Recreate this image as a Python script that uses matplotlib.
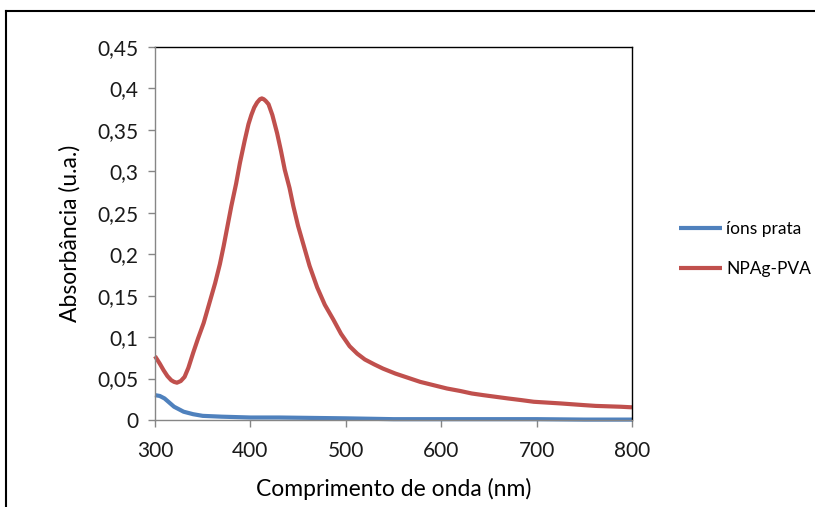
import numpy as np
import matplotlib.pyplot as plt
from matplotlib.lines import Line2D
from matplotlib.ticker import FuncFormatter

# Espectros UV-Vis
wl_ions = [300, 305, 310, 315, 320, 325, 330, 340, 350, 370, 400, 430, 500, 550, 600, 700, 750, 800]
abs_ions = [0.030, 0.029, 0.026, 0.021, 0.016, 0.013, 0.010, 0.007, 0.005, 0.004, 0.003,
            0.003, 0.002, 0.001, 0.001, 0.001, 0.0005, 0.0005]

wl_npag = [300, 305, 309, 313, 317, 320, 323, 327, 331, 335, 340, 345, 351, 357, 363, 368,
           372, 376, 380, 385, 389, 394, 398, 401, 404, 407, 410, 412, 414, 416, 419, 423,
           428, 432, 436, 441, 445, 450, 456, 462, 470, 478, 487, 495, 504, 512, 520, 530,
           539, 552, 565, 578, 592, 606, 620, 632, 644, 657, 670, 684, 697, 711, 725, 737,
           749, 762, 775, 788, 800]
abs_npag = [0.077, 0.068, 0.060, 0.053, 0.048, 0.046, 0.045, 0.047, 0.052, 0.063, 0.081,
            0.098, 0.117, 0.141, 0.165, 0.188, 0.210, 0.234, 0.258, 0.285, 0.310, 0.337,
            0.357, 0.368, 0.377, 0.383, 0.387, 0.388, 0.387, 0.385, 0.381, 0.368, 0.346,
            0.325, 0.302, 0.280, 0.258, 0.234, 0.210, 0.186, 0.160, 0.139, 0.121, 0.104,
            0.089, 0.080, 0.073, 0.067, 0.062, 0.056, 0.051, 0.046, 0.042, 0.038, 0.035,
            0.032, 0.030, 0.028, 0.026, 0.024, 0.022, 0.021, 0.020, 0.019, 0.018, 0.017,
            0.0165, 0.016, 0.0153]

labels = ['íons prata', 'NPAg-PVA']
cores = ['#4F81BD', '#C0504D']

plt.rcParams['font.family'] = ['Lato', 'DejaVu Sans']

fig = plt.figure(figsize=(8.15, 5.07), dpi=100)
ax = fig.add_axes([155/815, 1-420/507, 477/815, 373/507])

ax.plot(wl_ions, abs_ions, color=cores[0], lw=3.0, label=labels[0],
        solid_joinstyle='round', solid_capstyle='butt', clip_on=False)
ax.plot(wl_npag, abs_npag, color=cores[1], lw=3.0, label=labels[1],
        solid_joinstyle='round', solid_capstyle='butt', clip_on=False)

ax.set_xlim(300, 800)
ax.set_ylim(0, 0.45)
ax.set_xticks(np.arange(300, 801, 100))
ax.set_yticks(np.arange(0, 0.451, 0.05))
ax.yaxis.set_major_formatter(FuncFormatter(lambda v, p: ('%g' % round(v, 2)).replace('.', ',')))

for s in ['left', 'bottom']:
    ax.spines[s].set_color('#868686')
    ax.spines[s].set_linewidth(1.0)
for s in ['top', 'right']:
    ax.spines[s].set_color('black')
    ax.spines[s].set_linewidth(1.0)
ax.spines['left'].set_zorder(3)
ax.tick_params(direction='out', length=5, width=1, color='#868686',
               labelsize=15, labelcolor='#1a1a1a', pad=7)
ax.tick_params(axis='x', pad=10)

ax.set_xlabel('Comprimento de onda (nm)', fontsize=16.5, labelpad=12)
ax.set_ylabel('Absorbância (u.a.)', fontsize=16.5, labelpad=12)

fig.legend(loc='center left', bbox_to_anchor=(679/815, 1-249/507), frameon=False,
           borderpad=0, borderaxespad=0, fontsize=12.5, handlelength=2.5,
           handletextpad=0.2, labelspacing=1.35)

# moldura do grafico
fig.add_artist(Line2D([6/815, 6/815], [0, 1-11/507], color='black', lw=1.5, transform=fig.transFigure))
fig.add_artist(Line2D([6/815, 1], [1-11/507, 1-11/507], color='black', lw=1.5, transform=fig.transFigure))

fig.savefig('out.png', dpi=100)
